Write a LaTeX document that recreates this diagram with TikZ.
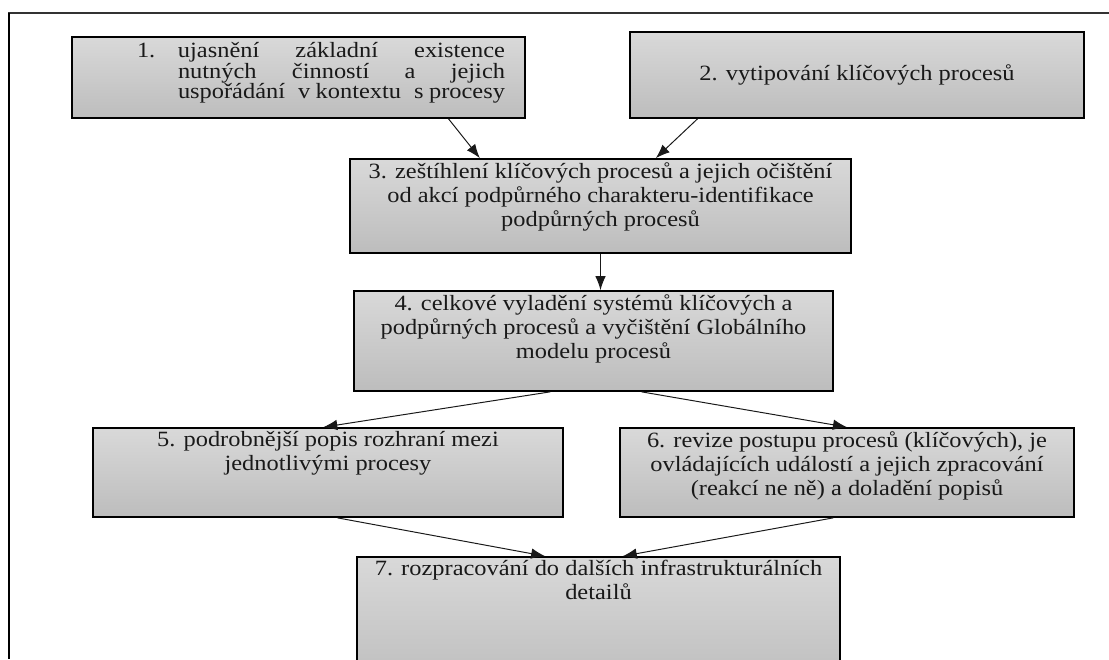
\documentclass[tikz,border=0pt]{standalone}
\usepackage{fontspec}
\setmainfont[FakeStretch=1.12]{Liberation Serif}
\usetikzlibrary{calc, arrows.meta}

\newlength\pxu
\setlength\pxu{0.025cm}
% text of one box: width, height (px), content
\newcommand{\boxtext}[3]{\parbox[c][#2\pxu][t]{#1\pxu}{\vspace*{2.5pt}\centering #3}}

\begin{document}
\begin{tikzpicture}[x=0.025cm, y=-0.025cm, >={Latex[length=10pt,width=7.5pt]},
		font=\fontsize{15.5}{17}\selectfont]
	% --- Styles ---
	\tikzset{
		stepbox/.style={draw=black, line width=1.2pt, top color=black!15, bottom color=black!26, inner sep=0pt, text=black!90},
		flow/.style={->, line width=0.7pt, draw=black!90}
	}
	\clip (0,0) rectangle (1109,659);
	
	% --- Frame ---
	\draw[line width=0.9pt, black!80] (8,13) -- (1109,13);
	\draw[line width=2pt] (9,13) -- (9,659);
	
	% --- Boxes ---
	\node[stepbox] (s1) at (298.5,77.5) {\parbox[c][81\pxu][t]{453\pxu}{\fontsize{15.5}{14.5}\selectfont\vspace*{4pt}%
			\hspace*{65\pxu}\makebox[41\pxu][l]{1.}\makebox[327\pxu][s]{ujasnění základní existence}\\
			\hspace*{106\pxu}\makebox[327\pxu][s]{nutných činností a jejich}\\
			\hspace*{106\pxu}\makebox[327\pxu][s]{uspořádání v\hspace{.25em}kontextu s\hspace{.25em}procesy}}};
	\node[stepbox] (s2) at (857,75) {\parbox[c][86\pxu][c]{454\pxu}{\centering 2. vytipování klíčových procesů}};
	\node[stepbox] (s3) at (600.5,206) {\boxtext{501}{94}{3. zeštíhlení klíčových procesů a jejich očištění\\
			od akcí podpůrného charakteru-identifikace\\ podpůrných procesů}};
	\node[stepbox] (s4) at (593.5,341) {\boxtext{479}{100}{4. celkové vyladění systémů klíčových a\\
			podpůrných procesů a vyčištění Globálního\\ modelu procesů}};
	\node[stepbox] (s5) at (328,472.5) {\boxtext{470}{89}{5. podrobnější popis rozhraní mezi\\ jednotlivými procesy}};
	\node[stepbox] (s6) at (847,472.5) {\boxtext{454}{89}{6. revize postupu procesů (klíčových), je\\
			ovládajících událostí a jejich zpracování\\ (reakcí ne ně) a doladění popisů}};
	\node[stepbox] (s7) at (598.5,623.5) {\boxtext{483}{133}{7. rozpracování do dalších infrastrukturálních\\ detailů}};
	
	% --- Arrows ---
	\draw[flow] ($(s1.south west)!.83!(s1.south east)$) -- ($(s3.north west)!.26!(s3.north east)$);
	\draw[flow] ($(s2.south west)!.15!(s2.south east)$) -- ($(s3.north west)!.61!(s3.north east)$);
	\draw[flow] (s3.south) -- (s3.south |- s4.north);
	\draw[flow] ($(s4.south west)!.41!(s4.south east)$) -- ($(s5.north west)!.49!(s5.north east)$);
	\draw[flow] ($(s4.south west)!.60!(s4.south east)$) -- ($(s6.north west)!.50!(s6.north east)$);
	\draw[flow] ($(s5.south west)!.52!(s5.south east)$) -- ($(s7.north west)!.39!(s7.north east)$);
	\draw[flow] ($(s6.south west)!.47!(s6.south east)$) -- ($(s7.north west)!.55!(s7.north east)$);
\end{tikzpicture}
\end{document}
